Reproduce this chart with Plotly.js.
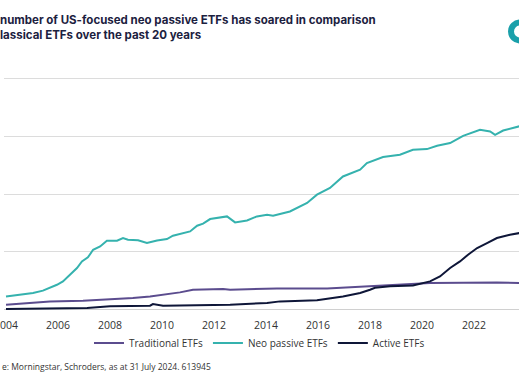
<!DOCTYPE html>
<html>
<head>
<meta charset="utf-8">
<script src="https://cdn.plot.ly/plotly-3.0.1.min.js"></script>
<style>html,body{margin:0;padding:0;background:#fff;overflow:hidden}#chart{width:519px;height:389px}</style>
</head>
<body>
<div id="chart"></div>
<script>
// Decimal years and counts
var neoYears = [2004.00,2004.54,2005.04,2005.42,2005.69,2005.96,2006.19,2006.46,2006.73,2006.92,2007.15,2007.35,2007.62,2007.88,2008.27,2008.50,2008.69,2009.08,2009.42,2009.81,2010.19,2010.42,2010.81,2011.08,2011.35,2011.58,2011.85,2012.50,2012.81,2013.27,2013.65,2014.04,2014.27,2014.92,2015.58,2015.96,2016.46,2016.96,2017.62,2017.88,2018.50,2019.15,2019.65,2020.19,2020.58,2021.08,2021.58,2022.23,2022.62,2022.81,2023.12,2023.65,2023.85];
var neoValues = [115,130,145,165,188,216,245,303,361,418,453,519,548,597,597,621,606,602,577,600,612,641,664,678,727,745,785,808,756,773,808,823,814,851,924,996,1054,1154,1212,1270,1322,1342,1385,1391,1420,1443,1506,1558,1544,1515,1552,1587,1595];

var tradYears = [2004.00,2005.04,2005.69,2006.96,2008.00,2008.88,2009.54,2010.04,2010.69,2011.19,2012.35,2012.62,2014.04,2014.42,2016.35,2018.00,2018.77,2020.31,2022.88,2023.85];
var tradValues = [43,58,72,78,87,101,115,130,150,173,179,173,179,184,184,202,208,231,236,231];

var actYears = [2004.00,2006.35,2007.12,2008.00,2009.04,2009.54,2009.65,2010.04,2012.62,2014.04,2014.54,2015.96,2016.96,2017.62,2018.00,2018.19,2018.77,2019.65,2020.31,2020.69,2021.08,2021.46,2021.77,2022.12,2022.50,2022.88,2023.38,2023.85];
var actValues = [6,9,15,29,35,35,49,35,43,58,72,81,115,145,173,190,202,210,245,288,361,418,476,534,577,621,649,668];

var seriesNames = ['Traditional ETFs','Neo passive ETFs','Active ETFs'];
var tickYears = [2004,2006,2008,2010,2012,2014,2016,2018,2020,2022,2024];

var colTrad = '#5b4c8e', colNeo = '#35b2ae', colAct = '#0e1638';

var traces = [
  {x: tradYears, y: tradValues, name: seriesNames[0], mode: 'lines', line: {color: colTrad, width: 2}},
  {x: neoYears, y: neoValues, name: seriesNames[1], mode: 'lines', line: {color: colNeo, width: 2}},
  {x: actYears, y: actValues, name: seriesNames[2], mode: 'lines', line: {color: colAct, width: 2}}
];

var layout = {
  width: 519, height: 389,
  margin: {l: 4, r: 0, t: 73, b: 77},
  paper_bgcolor: '#ffffff', plot_bgcolor: '#ffffff',
  font: {family: 'Open Sans, sans-serif', color: '#333333', size: 10},
  title: {
    text: '<b>number of US-focused neo passive ETFs has soared in comparison<br>lassical ETFs over the past 20 years</b>',
    x: 0, xref: 'container', xanchor: 'left',
    y: 0.938, yref: 'container', yanchor: 'middle',
    font: {family: 'Inter, sans-serif', size: 11.5, color: '#1c2140'}
  },
  xaxis: {
    range: [2003.923, 2023.73],
    tickvals: tickYears, ticktext: tickYears.map(String),
    showgrid: false, zeroline: false, showline: false,
    ticks: '', ticklabelstandoff: 5, ticklabeloverflow: 'allow',
    tickfont: {family: 'Open Sans, sans-serif', size: 10.5, color: '#333333'}
  },
  yaxis: {
    range: [-20, 2050],
    tickvals: [0, 500, 1000, 1500, 2000],
    showticklabels: false, ticks: '',
    showgrid: true, gridcolor: '#dcdcdc', gridwidth: 1,
    zeroline: true, zerolinecolor: '#d0d0d0', zerolinewidth: 1
  },
  showlegend: true,
  legend: {
    orientation: 'h', xref: 'container', yref: 'container',
    x: 0.5, xanchor: 'center', y: 0.118, yanchor: 'middle',
    font: {family: 'Open Sans, sans-serif', size: 10, color: '#333333'},
    itemwidth: 30, tracegroupgap: 0
  },
  annotations: [{
    text: 'e: Morningstar, Schroders, as at 31 July 2024. 613945',
    xref: 'paper', yref: 'paper', x: -4/515, y: (312-366)/239,
    xanchor: 'left', yanchor: 'middle', showarrow: false,
    font: {family: 'Open Sans, sans-serif', size: 8.5, color: '#333333'}
  }],
  shapes: [{
    type: 'circle', xref: 'paper', yref: 'paper',
    x0: (511-4)/515, x1: (529-4)/515, y0: (312-40.5)/239, y1: (312-22.5)/239,
    line: {color: '#1aa0aa', width: 6}, fillcolor: 'rgba(0,0,0,0)'
  }]
};

Plotly.newPlot('chart', traces, layout, {displayModeBar: false, staticPlot: true});
</script>
</body>
</html>
